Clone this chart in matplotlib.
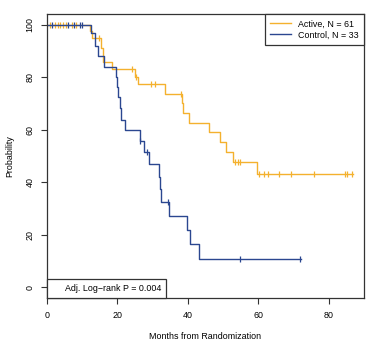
import matplotlib
matplotlib.use('Agg')
import matplotlib.pyplot as plt
import numpy as np
from matplotlib.lines import Line2D

plt.rcParams['font.family'] = ['Liberation Sans', 'DejaVu Sans']

# Active arm (Kaplan-Meier steps, %)
active_event_times = [12.1, 12.8, 15.3, 15.9, 18.5, 25.1, 25.8, 33.4, 38.4, 38.7,
                      40.3, 46.0, 49.0, 50.8, 52.8, 59.5]
active_surv = [97.4, 94.9, 91.0, 85.9, 83.2, 80.0, 77.3, 73.6, 70.1, 66.3,
               62.6, 59.1, 55.3, 51.5, 47.7, 43.2]
active_censor = [0.9, 2.2, 3.1, 3.8, 4.5, 5.5, 7.1, 8.2, 14.8, 24.0, 25.4, 29.5,
                 30.6, 38.1, 53.3, 54.1, 54.9, 60.1, 61.6, 62.8, 66.0, 69.4,
                 75.8, 84.5, 85.1, 86.5]
active_end = 86.8

# Control arm
control_event_times = [12.6, 13.6, 14.5, 16.2, 19.7, 19.9, 20.2, 20.7, 21.1, 22.1,
                       26.3, 27.4, 28.9, 31.8, 32.1, 32.4, 34.7, 39.8, 40.7, 43.1]
control_surv = [96.8, 92.0, 88.0, 84.0, 80.0, 76.4, 72.3, 68.2, 63.7, 59.9,
                55.7, 51.7, 47.0, 41.9, 37.3, 32.6, 27.2, 21.8, 16.4, 10.8]
control_censor = [1.4, 6.0, 7.6, 9.5, 9.9, 26.5, 28.5, 34.3, 54.9, 71.8]
control_end = 72.0

labels = ['Active, N = 61', 'Control, N = 33']
colors = ['#F4B12E', '#2B4790']
pvalue_text = 'Adj. Log\u2212rank P = 0.004'
x_ticks = [0, 20, 40, 60, 80]
y_ticks = [0, 20, 40, 60, 80, 100]

fs = 6.4
fig = plt.figure(figsize=(3.75, 3.51), dpi=100)
ax = fig.add_axes([47/375, 1-298/351, (364-47)/375, (298-14)/351])


def surv_at(times, surv, t):
    idx = np.searchsorted(times, t, side='right')
    return 100.0 if idx == 0 else surv[idx-1]


arms = [(active_event_times, active_surv, active_censor, active_end),
        (control_event_times, control_surv, control_censor, control_end)]
for (et, sv, cs, end), col in zip(arms, colors):
    xs = [0] + list(et) + [end]
    ys = [100] + list(sv) + [sv[-1]]
    ax.step(xs, ys, where='post', color=col, lw=1.0)
    cy = [surv_at(et, sv, t) for t in cs]
    ax.plot(cs, cy, linestyle='none', marker='|', color=col, markersize=5, mew=0.9)

ax.set_xlim(0, 90)
ax.set_ylim(-4, 104)
ax.set_xticks(x_ticks)
ax.set_yticks(y_ticks)
ax.set_yticklabels([str(v) for v in y_ticks], rotation=90, va='center')
ax.tick_params(axis='both', labelsize=fs, length=4.3, width=0.8, color='#333333')
ax.tick_params(axis='x', pad=5)
ax.tick_params(axis='y', pad=4.5)
for sp in ax.spines.values():
    sp.set_linewidth(0.9)
    sp.set_color('#333333')

ax.set_xlabel('Months from Randomization', fontsize=fs, labelpad=9)
ax.set_ylabel('Probability', fontsize=fs, labelpad=8)

handles = [Line2D([], [], color=c, lw=1.0) for c in colors]
leg = ax.legend(handles, labels, loc='upper right', bbox_to_anchor=(1, 1),
                borderaxespad=0, fontsize=fs, frameon=True, fancybox=False,
                edgecolor='#333333', framealpha=1, handlelength=2.3,
                handletextpad=0.8, borderpad=0.6, labelspacing=0.25)
leg.get_frame().set_linewidth(0.9)
ax.add_artist(leg)

leg2 = ax.legend([Line2D([], [], color='none')], [pvalue_text], loc='lower left',
                 bbox_to_anchor=(0, 0), borderaxespad=0, fontsize=fs, frameon=True,
                 fancybox=False, edgecolor='#333333', framealpha=1,
                 handlelength=1.2, handletextpad=0.3, borderpad=0.55)
leg2.get_frame().set_linewidth(0.9)

fig.savefig('out.png', dpi=100)
